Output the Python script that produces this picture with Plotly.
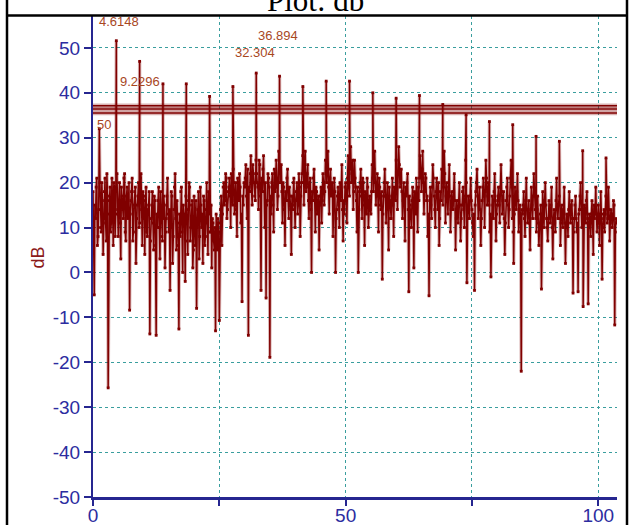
import numpy as np
import plotly.graph_objects as go

# ---------------- data ----------------
step = 0.25  # spacing of the noise samples (two interleaved sample sets)

# samples at x = 0, 0.25, 0.5, ...
noise_db = [
    18, -5, 12, 21, 8, 32, 10, 20, 4, 18, 11, 22, -25.7, 16, 9, 21, 6, 19, 13, 22,
    8, 20, 3, 17, 12, 22, 7, 19, 14, -8.4, 16, 21, 9, 18, 2, 15, 20, 11, 22, 6,
    17, 4, 19, 8, 15, -13.7, 12, 18, 5, 16, -14, 10, 19, 3, 14, 7, 17, 1, 12, 21,
    9, -4, 18, 2, 14, 22, 5, 11, -12.6, 8, 19, 0, 13, -2, 16, 4, 20, 7, 15, 1,
    17, 6, -8, 14, 3, 19, 10, 2, 16, 8, 20, 4, 13, 9, 1, 11, 5, -13, 8, 12,
    -10.7, 14, 6, 19, 15, 22, 12, 18, 21, 10, 16, 23, 13, 20, 8, 17, 22, 11, -6.5, 15,
    19, 24, 12, -14, 18, 26, 15, 22, 17, 25, 20, 14, 24, -4, 18, 26, 10, -5.7, 16, 21,
    -18.9, 13, 22, 9, 18, 25, 14, 27, 20, 24, 11, 19, 6, 16, 23, 12, 17, 4, 14, 21,
    10, 18, 13, 22, 8, 20, 26, 15, 27, 19, 24, 12, 21, 0, 16, 23, 9, 18, 14, 5,
    17, 11, 22, 15, 25, 20, 27, 13, 23, 18, 8, 21, 0, 14, 19, 10, 16, 24, 7, 13,
    20, 11, 26, 17, 28, 22, 14, 25, 19, 9, 0, 18, 23, 12, 20, 6, 15, 21, 10, 17,
    13, 24, 18, 27, 15, 22, 9, 19, 14, -1.5, 17, 23, 11, 20, 5, 16, 12, 21, 8, 18,
    25, 14, 28, 19, 23, 12, 20, 7, 17, 22, -4.3, 15, 10, 19, 1, 14, 21, 9, 16, 26,
    18, 27, 13, 22, 16, 8, -5.2, 19, 12, 24, 17, 10, 21, 14, 6, 18, 23, 15, 27, 11,
    20, 13, 24, 9, 18, 14, 22, 5, 16, 11, 20, 7, 15, 19, 10, 25, -2.3, 17, 12, 21,
    14, 8, -4, 18, 23, 12, 19, 6, 16, 21, 10, 25, 15, 20, 9, -1, 17, 12, 22, 7,
    15, 19, 11, 24, 13, 18, 4, 16, 21, 10, 17, 25, 12, 2, 19, 14, 22, 9, 15, -22,
    13, 18, 8, 21, 11, 16, 5, 19, 12, 22, 14, 9, 17, 6, 13, -3.7, 18, 10, 20, 12,
    7, 16, 11, 19, 3, 14, 9, 21, 12, 17, 6, 15, 10, 19, 2, 13, 8, 18, 11, 16,
    -4.6, 12, 17, 9, -4.3, 14, 20, 10, -7.6, 15, 11, 18, -7, 13, 8, 16, 4, 12, 19, 9,
    15, 6, 18, -1.5, 13, 9, 17, 11, 19, 7, 14, 10, 16, -11.7, 12,
]

# samples at x = 0.125, 0.375, 0.625, ...
noise_db_b = [
    10, 15, 19, 6, 14, 20, 9, 16, 12, 21, 7, 17, 13, 19, 11, 15, 20, 8, 18, 14,
    16, 11, 19, 14, 21, 9, 17, 12, 20, 13, 18, 7, 15, 19, 12, 17, 10, 21, 14, 18,
    12, 16, 9, 14, 18, 7, 15, 11, 17, 6, 13, 16, 10, 18, 8, 12, 15, 9, 17, 13,
    14, 10, 17, 8, 19, 12, 16, 6, 13, 18, 9, 15, 11, 17, 7, 14, 19, 10, 16, 5,
    12, 16, 10, 18, 8, 15, 13, 17, 6, 14, 11, 18, 9, 15, 12, 7, 10, 13, 5, 9,
    11, 17, 13, 20, 16, 21, 14, 19, 17, 22, 15, 20, 18, 14, 21, 16, 19, 13, 17, 20,
    21, 17, 23, 19, 22, 18, 24, 20, 16, 22, 19, 25, 17, 21, 23, 18, 20, 15, 22, 19,
    17, 20, 15, 23, 19, 21, 17, 24, 22, 18, 20, 14, 18, 21, 16, 19, 14, 17, 20, 15,
    16, 20, 15, 19, 17, 22, 20, 24, 18, 22, 16, 20, 14, 18, 21, 16, 19, 13, 17, 15,
    19, 16, 20, 18, 22, 24, 19, 21, 17, 20, 15, 18, 12, 17, 15, 20, 18, 14, 16, 19,
    16, 21, 19, 23, 20, 25, 18, 21, 16, 19, 14, 20, 17, 21, 15, 18, 13, 19, 16, 14,
    18, 21, 23, 20, 19, 17, 21, 15, 18, 13, 20, 17, 16, 14, 19, 12, 17, 15, 19, 16,
    20, 22, 24, 21, 18, 16, 15, 19, 20, 14, 17, 12, 16, 15, 18, 13, 17, 19, 21, 22,
    23, 20, 18, 21, 17, 13, 16, 15, 19, 21, 14, 18, 17, 20, 12, 16, 20, 19, 22, 17,
    16, 19, 17, 14, 15, 18, 16, 12, 13, 16, 15, 12, 18, 14, 17, 20, 12, 15, 17, 16,
    11, 13, 15, 20, 17, 16, 14, 12, 19, 17, 18, 21, 17, 15, 13, 12, 15, 18, 16, 13,
    17, 15, 19, 18, 16, 12, 11, 19, 15, 14, 21, 19, 9, 13, 17, 18, 16, 13, 11, 14,
    15, 12, 16, 14, 13, 11, 14, 15, 17, 18, 12, 14, 11, 10, 15, 13, 14, 16, 15, 10,
    12, 13, 15, 10, 12, 11, 16, 14, 15, 12, 11, 13, 14, 11, 10, 12, 14, 13, 15, 12,
    9, 15, 12, 11, 13, 17, 14, 12, 11, 13, 16, 12, 10, 12, 13, 11, 15, 14, 13, 12,
    11, 13, 12, 10, 14, 13, 15, 12, 14, 11, 13, 12, 15, 9, 11,
]

peak_freq = [4.6148, 9.2296, 13.8444, 18.4592, 23.074, 27.6888, 32.3036, 36.9184,
             41.5332, 46.148, 50.7628, 55.3776, 59.9924, 64.6072, 69.222, 73.8368,
             78.4516, 83.0664, 87.6812, 92.296, 96.9108, 101.5256]
peak_db = [51.6, 47.0, 42.0, 42.0, 39.2, 41.4, 44.4, 43.7, 41.4, 42.6, 42.6,
           40.0, 38.8, 39.4, 37.4, 35.1, 33.6, 32.9, 30.3, 29.2, 27.1, 25.5]

threshold_db = [37.1, 36.4, 35.5]

marker_text = ["4.6148", "36.894", "32.304", "9.2296", "50"]
marker_x = [0.85, 32.3, 27.7, 4.9, 0.4]
marker_y = [55.9, 52.8, 48.9, 42.6, 33.0]

x_ticks = [0, 25, 50, 75, 100]
x_ticktext = ["0", "", "50", "", "100"]
y_ticks = [-50, -40, -30, -20, -10, 0, 10, 20, 30, 40, 50]
y_ticktext = ["-50", "-40", "-30", "-20", "-10", "0", "10", "20", "30", "40", "50"]

# ---------------- build series ----------------
x_a = np.arange(len(noise_db)) * step
x_b = np.arange(len(noise_db_b)) * step + step / 2
xs = np.concatenate([x_a, x_b, np.array(peak_freq)])
ys = np.concatenate([np.array(noise_db, dtype=float), np.array(noise_db_b, dtype=float),
                     np.array(peak_db)])
order = np.argsort(xs, kind="stable")
xs, ys = xs[order], ys[order]

DARK = "#800000"
NAVY = "#262690"
TICKC = "#2c2ca0"
GRID = "#3a9e9e"
LBL = "#a8471f"

fig = go.Figure()
fig.add_trace(go.Scatter(x=xs, y=ys, mode="lines",
                         line=dict(color="rgba(128,0,0,0.28)", width=3.4),
                         hoverinfo="skip", showlegend=False))
fig.add_trace(go.Scatter(x=xs, y=ys, mode="lines+markers",
                         line=dict(color=DARK, width=1.5),
                         marker=dict(symbol="square", size=2.8, color=DARK),
                         showlegend=False))

L, R, T, B = 93, 13, 16, 28
W, H = 630, 525
pw, ph = W - L - R, H - T - B


def px(p):
    return (p - L) / pw


def py(p):
    return 1 - (p - T) / ph


shapes = []
for yv in threshold_db:
    shapes.append(dict(type="line", xref="paper", yref="y", x0=0, x1=1, y0=yv, y1=yv,
                       line=dict(color="rgba(128,0,0,0.3)", width=4.5), layer="above"))
    shapes.append(dict(type="line", xref="paper", yref="y", x0=0, x1=1, y0=yv, y1=yv,
                       line=dict(color=DARK, width=1.4), layer="above"))
# outer frame / title separator
shapes.append(dict(type="line", xref="paper", yref="paper", x0=px(6), x1=px(627),
                   y0=py(15.5), y1=py(15.5), line=dict(color="black", width=2.5)))
shapes.append(dict(type="line", xref="paper", yref="paper", x0=px(7), x1=px(7),
                   y0=py(0), y1=py(525), line=dict(color="black", width=2.5)))
shapes.append(dict(type="line", xref="paper", yref="paper", x0=px(627), x1=px(627),
                   y0=py(0), y1=py(525), line=dict(color="black", width=2.5)))

annotations = []
for t, xv, yv in zip(marker_text, marker_x, marker_y):
    annotations.append(dict(x=xv, y=yv, xref="x", yref="y", text=t, showarrow=False,
                            xanchor="left", yanchor="middle",
                            font=dict(family="Liberation Sans, Arial", size=13, color=LBL)))
annotations.append(dict(x=px(315), y=py(20.5), xref="paper", yref="paper",
                        text="Plot: db", showarrow=False, xanchor="center", yanchor="bottom",
                        font=dict(family="Liberation Serif, Times New Roman", size=31,
                                  color="black")))
annotations.append(dict(x=px(37), y=py(257.5), xref="paper", yref="paper", text="dB",
                        showarrow=False, textangle=-90, xanchor="center", yanchor="middle",
                        font=dict(family="Liberation Sans, Arial", size=18, color="#8b1a1a")))

fig.update_layout(
    width=W, height=H,
    margin=dict(l=L, r=R, t=T, b=B, autoexpand=False),
    paper_bgcolor="white", plot_bgcolor="white",
    shapes=shapes, annotations=annotations,
    xaxis=dict(range=[0, 103.7], tickvals=x_ticks, ticktext=x_ticktext, automargin=False,
               showgrid=True, gridcolor=GRID, griddash="dot", gridwidth=1,
               zeroline=False, showline=True, linecolor=NAVY, linewidth=2.5,
               ticks="outside", ticklen=6, tickwidth=2, tickcolor=NAVY,
               ticklabelstandoff=-7,
               tickfont=dict(family="Liberation Sans, Arial", size=19, color=TICKC)),
    yaxis=dict(range=[-50, 57.1], tickvals=y_ticks, ticktext=y_ticktext, automargin=False,
               showgrid=True, gridcolor=GRID, griddash="dot", gridwidth=1,
               zeroline=False, showline=True, linecolor=NAVY, linewidth=2,
               ticks="outside", ticklen=7, tickwidth=2, tickcolor=NAVY,
               tickfont=dict(family="Liberation Sans, Arial", size=19, color=TICKC)),
)

fig.write_html("out.html",
               config={"displayModeBar": False},
               post_script="document.body.style.margin='0';"
                           "document.body.style.overflow='hidden';")
